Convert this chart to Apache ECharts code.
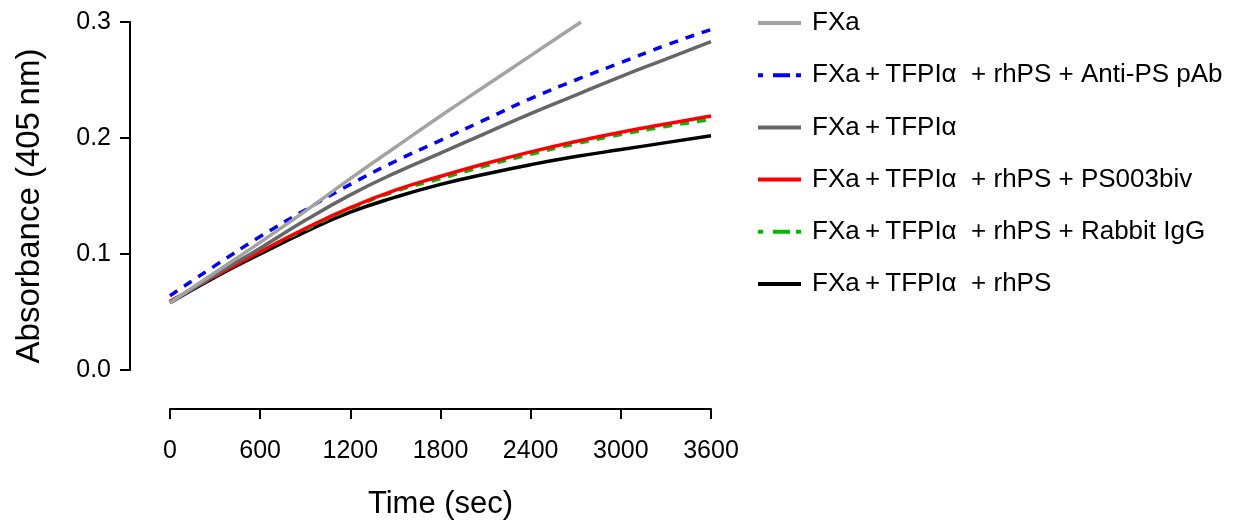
<!DOCTYPE html>
<html>
<head>
<meta charset="utf-8">
<script src="https://cdn.jsdelivr.net/npm/echarts@6/dist/echarts.min.js"></script>
<style>
html,body{margin:0;padding:0;background:#fff;}
#chart{width:1239px;height:528px;}
</style>
</head>
<body>
<div id="chart"></div>
<script>
// ---- data ----
var timeAll = [0, 300, 600, 900, 1200, 1500, 1800, 2100, 2400, 2700, 3000, 3300, 3600];
var timeFXa = [0, 300, 600, 900, 1200, 1500, 1800, 2100, 2400, 2700, 2735];

var fxa         = [0.058, 0.084, 0.110, 0.137, 0.165, 0.192, 0.219, 0.245, 0.271, 0.297, 0.300];
var antiPS      = [0.064, 0.090, 0.115, 0.138, 0.160, 0.180, 0.198, 0.216, 0.234, 0.250, 0.265, 0.280, 0.2935];
var tfpi        = [0.058, 0.082, 0.105, 0.129, 0.151, 0.170, 0.187, 0.204, 0.221, 0.237, 0.253, 0.268, 0.283];
var ps003biv    = [0.059, 0.081, 0.102, 0.122, 0.140, 0.155, 0.167, 0.178, 0.188, 0.197, 0.205, 0.212, 0.219];
var rabbitIgG   = [0.059, 0.081, 0.102, 0.121, 0.139, 0.154, 0.165, 0.176, 0.186, 0.195, 0.203, 0.210, 0.216];
var rhPS        = [0.058, 0.080, 0.100, 0.119, 0.136, 0.149, 0.160, 0.169, 0.177, 0.184, 0.190, 0.196, 0.202];

var names = [
  'FXa',
  'FXa\u2009+\u2009TFPI\u03b1  + rhPS + Anti-PS pAb',
  'FXa\u2009+\u2009TFPI\u03b1',
  'FXa\u2009+\u2009TFPI\u03b1  + rhPS + PS003biv',
  'FXa\u2009+\u2009TFPI\u03b1  + rhPS + Rabbit IgG',
  'FXa\u2009+\u2009TFPI\u03b1  + rhPS'
];
var xTicks = [0, 600, 1200, 1800, 2400, 3000, 3600];
var yTicks = [0.0, 0.1, 0.2, 0.3];

function pairs(t, v) { return v.map(function (y, i) { return [t[i], y]; }); }

var FONT = "'Liberation Sans', Arial, sans-serif";
var colors = ['#a3a3a3', '#0000ff', '#666666', '#ff0000', '#00bb00', '#000000'];
var dashes = ['solid', [9, 8], 'solid', 'solid', [9, 8], 'solid'];
var legendDash = [5, 10, 17, 6, 5, 60];
var dataSets = [pairs(timeFXa, fxa), pairs(timeAll, antiPS), pairs(timeAll, tfpi),
                pairs(timeAll, ps003biv), pairs(timeAll, rabbitIgG), pairs(timeAll, rhPS)];
var drawOrder = [5, 4, 3, 2, 1, 0];

var series = drawOrder.map(function (k) {
  return {
    name: names[k],
    type: 'line',
    data: dataSets[k],
    smooth: 0.5,
    symbol: 'none',
    showSymbol: false,
    lineStyle: { color: colors[k], width: 3.5, type: dashes[k] },
    itemStyle: { color: colors[k] },
    emphasis: { disabled: true }
  };
});

var chart = echarts.init(document.getElementById('chart'), null, { renderer: 'canvas' });
chart.setOption({
  animation: false,
  backgroundColor: '#ffffff',
  grid: { left: 170, right: 528, top: 22, bottom: 158, containLabel: false },
  xAxis: {
    type: 'value', min: 0, max: 3600, interval: 600,
    offset: 39,
    name: 'Time (sec)', nameLocation: 'middle', nameGap: 80,
    nameTextStyle: { fontFamily: FONT, fontSize: 31, color: '#000' },
    axisLine: { show: true, onZero: false, lineStyle: { color: '#000', width: 2 } },
    axisTick: { show: true, length: 10, inside: false, lineStyle: { color: '#000', width: 2 } },
    axisLabel: { margin: 30, fontFamily: FONT, fontSize: 25, color: '#000',
      formatter: function (v) { return xTicks.indexOf(v) >= 0 ? String(v) : ''; } },
    splitLine: { show: false }
  },
  yAxis: {
    type: 'value', min: 0, max: 0.3, interval: 0.1,
    offset: 40,
    name: 'Absorbance (405\u2009nm)', nameLocation: 'middle', nameGap: 84,
    nameTextStyle: { fontFamily: FONT, fontSize: 33, color: '#000', padding: [0, 20, 0, 0] },
    axisLine: { show: true, onZero: false, lineStyle: { color: '#000', width: 2 } },
    axisTick: { show: true, length: 10, lineStyle: { color: '#000', width: 2 } },
    axisLabel: { margin: 19, fontFamily: FONT, fontSize: 25, color: '#000',
      formatter: function (v) { return v.toFixed(1); } },
    splitLine: { show: false }
  },
  legend: {
    orient: 'vertical',
    left: 751, top: 5,
    itemWidth: 43, itemHeight: 14,
    itemGap: 26.2,
    itemStyle: { opacity: 0, borderWidth: 0 },
    textStyle: { fontFamily: FONT, fontSize: 26, lineHeight: 26, color: '#000', padding: [0, 0, 0, 6] },
    data: names.map(function (n, k) {
      return {
        name: n,
        lineStyle: { color: colors[k], width: 4, type: (k === 1 || k === 4) ? legendDash : 'solid' }
      };
    }),
    selectedMode: false
  },
  series: series
});
</script>
</body>
</html>
